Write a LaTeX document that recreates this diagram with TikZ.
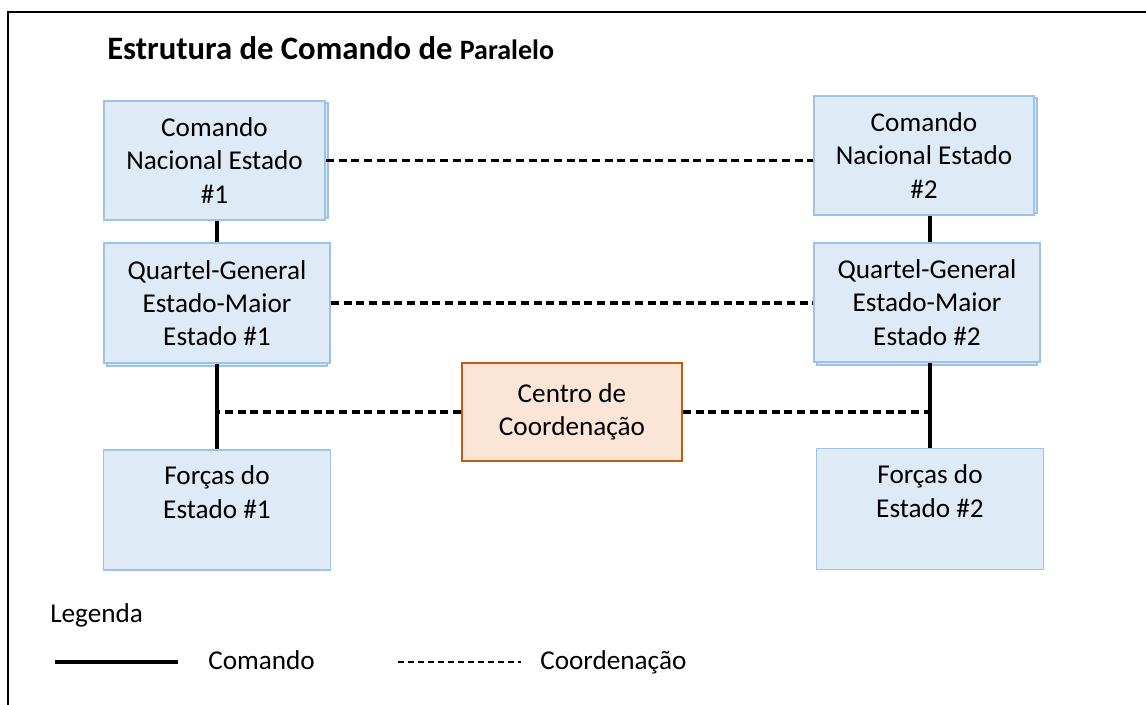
\documentclass[tikz,border=0pt]{standalone}
\usepackage{fontspec}
\setmainfont{Carlito}
\usepackage{xcolor}
\definecolor{boxfill}{HTML}{DEEBF7}
\definecolor{boxline}{HTML}{9DC3E6}
\definecolor{ccfill}{HTML}{FBE5D6}
\definecolor{ccline}{HTML}{C55A11}

\begin{document}
\begin{tikzpicture}[
      x = 0.75pt, y = -0.75pt,
      every node/.style = {font = \fontsize{20.4}{25}\selectfont, align = center, inner sep = 0pt},
      estado/.style = {draw = boxline, fill = boxfill, line width = 1.3pt},
      centro/.style = {draw = ccline, fill = ccfill, line width = 1.6pt,
                       minimum width = 165pt, minimum height = 73.5pt},
      comando/.style = {line width = 2.5pt},
      coord/.style = {line width = 2.5pt, dash pattern = on 6pt off 3.5pt},
      legcoord/.style = {line width = 1.6pt, dash pattern = on 4.5pt off 3pt}
      ]
      \useasboundingbox (0,0) rectangle (1146,704);
      % outer frame
      \draw[line width = 2pt] (8,720) -- (8,12) -- (1160,12);
      \node[anchor = base west, font = \bfseries\fontsize{24.5}{28}\selectfont] (title) at (107,59)
            {Estrutura de Comando de {\fontsize{21}{24}\selectfont Paralelo}};
      % copies behind boxes
      \draw[estado] (107,103) rectangle (328,218);
      \draw[estado] (817,98) rectangle (1037,213);
      \draw[estado] (107,246) rectangle (327,366);
      \draw[estado] (817,246) rectangle (1037,365);
      % boxes
      \node[estado, minimum width = 165.75pt, minimum height = 89.25pt] (cn1) at (214.5,160.5)
            {Comando\\Nacional Estado\\\#1};
      \node[estado, minimum width = 165pt, minimum height = 89.25pt] (cn2) at (924,155.5)
            {Comando\\Nacional Estado\\\#2};
      \node[estado, minimum width = 169.5pt, minimum height = 90pt] (qg1) at (217,303)
            {Quartel-General\\Estado-Maior\\Estado \#1};
      \node[estado, minimum width = 169.5pt, minimum height = 89.25pt] (qg2) at (927,302.5)
            {Quartel-General\\Estado-Maior\\Estado \#2};
      \node[centro] (cc) at (572,412) {Centro de\\Coordenação};
      \node[estado, minimum width = 170.25pt, minimum height = 90pt] (f1) at (217,510)
            {Forças do\\Estado \#1\\[2pt]~};
      \node[estado, minimum width = 170.25pt, minimum height = 90.75pt] (f2) at (930,509)
            {Forças do\\Estado \#2\\[2pt]~};
      % command lines
      \draw[comando] (qg1.north) -- (qg1.north |- cn1.south);
      \draw[comando] (qg2.north -| f2.north) -- (f2.north |- cn2.south);
      \draw[comando] (f1.north) -- (f1.north |- qg1.south);
      \draw[comando] (f2.north) -- (f2.north |- qg2.south);
      % coordination lines
      \coordinate (j1) at (f1.north |- cc.west);
      \coordinate (j2) at (f2.north |- cc.east);
      \draw[coord] (cn1.east) -- (cn1.east -| cn2.west);
      \draw[coord] (qg1.east) -- (qg1.east -| qg2.west);
      \draw[coord] (cc.west) -- (j1);
      \draw[coord] (cc.east) -- (j2);
      % legend
      \node[anchor = base west] (leg) at (50,622) {Legenda};
      \coordinate (sc1) at (55,662);
      \coordinate (sc2) at (178,662);
      \coordinate (dc1) at (398,662);
      \coordinate (dc2) at (521,662);
      \draw[comando] (sc1) -- (sc2);
      \draw[legcoord] (dc1) -- (dc2);
      \node[anchor = base west] (lcmd) at (208,669) {Comando};
      \node[anchor = base west] (lcoord) at (540,669) {Coordenação};
\end{tikzpicture}
\end{document}
